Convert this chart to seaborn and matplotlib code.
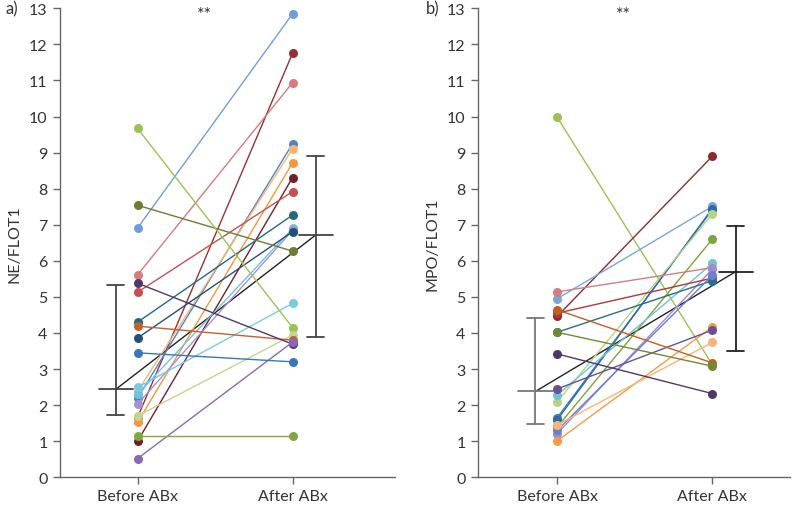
import matplotlib
matplotlib.use("Agg")
import matplotlib.pyplot as plt
import seaborn as sns
import pandas as pd

sns.set_style("white")
plt.rcParams['font.family'] = ['Lato', 'DejaVu Sans']

times = ["Before ABx", "After ABx"]

# Panel a) NE/FLOT1
ne_before = [6.91, 1.66, 5.61, 2.19, 2.38, 1.52, 1.00, 5.13, 4.30, 2.30, 2.03,
             3.86, 7.54, 2.49, 9.67, 1.70, 4.19, 5.38, 0.52, 3.45, 1.15]
ne_after = [12.85, 11.76, 10.94, 9.25, 9.11, 8.72, 8.31, 7.92, 7.27, 6.90, 6.85,
            6.81, 6.27, 4.82, 4.15, 3.94, 3.80, 3.69, 3.75, 3.20, 1.15]
ne_colors = ['#6f9fd8', '#9a2f33', '#d97a7c', '#4a86cc', '#fcb46e', '#f7973d',
             '#6c2228', '#c84f4f', '#216b80', '#71c3dc', '#a792d0', '#244f78',
             '#6b7d32', '#79cbe0', '#9cc255', '#c3d690', '#c4612a', '#4d3b6c',
             '#8a68b8', '#3878b9', '#80a83f']
ne_median = [2.44, 6.72]
ne_low = [1.73, 3.89]
ne_high = [5.34, 8.90]

# Panel b) MPO/FLOT1
mpo_before = [9.98, 4.46, 4.95, 1.65, 1.59, 2.09, 1.39, 2.28, 5.14, 1.21, 4.55,
              4.02, 1.30, 1.01, 2.45, 1.45, 4.64, 4.02, 3.42]
mpo_after = [3.12, 8.90, 7.51, 7.42, 7.45, 7.30, 6.60, 5.93, 5.81, 5.77, 5.52,
             5.45, 5.60, 4.17, 4.08, 3.74, 3.17, 3.08, 2.32]
mpo_colors = ['#9cc255', '#8c2a30', '#7aa6dc', '#3d7abf', '#2f6aa8', '#b5d486',
              '#7fa23c', '#6cc3db', '#d57d80', '#9f8bd0', '#b2353a', '#2a6e85',
              '#6a7fcf', '#f99a45', '#6a4f96', '#fbb474', '#c1601f', '#6f8a35',
              '#4b3968']
mpo_median = [2.38, 5.70]
mpo_low = [1.47, 3.49]
mpo_high = [4.41, 6.97]

fig = plt.figure(figsize=(7.97, 5.10), dpi=100)
W, H = 797, 510
y0, y13 = 478.3, 9.3
axA = fig.add_axes([60 / W, (H - y0) / H, (395 - 60) / W, (y0 - y13) / H])
axB = fig.add_axes([478 / W, (H - y0) / H, (790 - 478) / W, (y0 - y13) / H])


def panel(ax, before, after, colors, med, low, high, ylabel, tag, xlim,
          bar_colors):
    n = len(before)
    df = pd.DataFrame({
        "subject": [f"s{i}" for i in range(n)] * 2,
        "time": [times[0]] * n + [times[1]] * n,
        "value": list(before) + list(after),
    })
    sns.lineplot(data=df, x="time", y="value", hue="subject",
                 palette=dict(zip([f"s{i}" for i in range(n)], colors)),
                 marker="o", markersize=6.5, markeredgewidth=0, linewidth=1.0,
                 legend=False, ax=ax, sort=False)
    # summary (median with range) offset beside each group
    pos = [-0.14, 1.15]
    ax.plot(pos, med, color="#222222", lw=1.0, zorder=1)
    for p, m, lo, hi, c in zip(pos, med, low, high, bar_colors):
        ax.plot([p, p], [lo, hi], color=c, lw=1.3, zorder=1)
        ax.plot([p - 0.055, p + 0.055], [lo, lo], color=c, lw=1.3, zorder=1)
        ax.plot([p - 0.055, p + 0.055], [hi, hi], color=c, lw=1.3, zorder=1)
        ax.plot([p - 0.11, p + 0.11], [m, m], color=c, lw=1.3, zorder=1)
    ax.set_ylim(0, 13)
    ax.set_yticks(range(0, 14))
    ax.set_xlim(*xlim)
    ax.set_xticks([0, 1])
    ax.set_xticklabels(times)
    ax.set_xlabel("")
    ax.set_ylabel(ylabel, fontsize=11.5, color="#333333", labelpad=5)
    for s in ["top", "right"]:
        ax.spines[s].set_visible(False)
    for s in ["left", "bottom"]:
        ax.spines[s].set_color("#666666")
        ax.spines[s].set_linewidth(1.0)
    ax.tick_params(axis="both", direction="out", length=5, width=1,
                   color="#666666", labelsize=11.5, labelcolor="#333333",
                   left=True, bottom=True)
    ax.tick_params(axis="y", pad=4)
    ax.text(0.43, 12.85, "**", ha="center", va="center", fontsize=13,
            color="#333333")
    ax.text(-0.125, 1.0, tag, transform=ax.transAxes, ha="right", va="center",
            fontsize=12, color="#333333")


panel(axA, ne_before, ne_after, ne_colors, ne_median, ne_low, ne_high,
      "NE/FLOT1", "a)", (-0.5, 1.66), ["#444444", "#444444"])
panel(axB, mpo_before, mpo_after, mpo_colors, mpo_median, mpo_low, mpo_high,
      "MPO/FLOT1", "b)", (-0.51, 1.5), ["#777777", "#222222"])

fig.savefig("out.png", dpi=100)
